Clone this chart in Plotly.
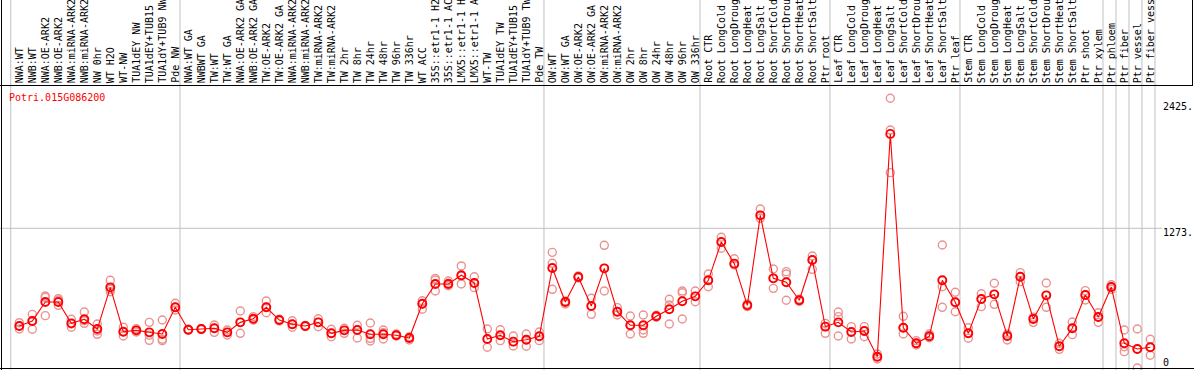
import plotly.graph_objects as go

labels = [
    "NWA:WT", "NWB:WT", "NWA:OE-ARK2", "NWB:OE-ARK2", "NWA:miRNA-ARK2", "NWB:miRNA-ARK2",
    "NW 0hr", "WT H2O", "WT-NW", "TUA1dEY NW", "TUA1dEY+TUB15", "TUA1dY+TUB9 NW", "Pde NW",
    "NWA:WT GA", "NWBWT GA", "TW:WT", "TW:WT GA", "NWA:OE-ARK2 GA", "NWB:OE-ARK2 GA",
    "TW:OE-ARK2", "TW:OE-ARK2 GA", "NWA:miRNA-ARK2", "NWB:miRNA-ARK2", "TW:miRNA-ARK2",
    "TW:miRNA-ARK2", "TW 2hr", "TW 8hr", "TW 24hr", "TW 48hr", "TW 96hr", "TW 336hr", "WT ACC",
    "35S::etr1-1 H2", "35S::etr1-1 AC", "LMX5::etr1-1 H", "LMX5::etr1-1 A", "WT-TW",
    "TUA1dEY TW", "TUA1dEY+TUB15", "TUA1dY+TUB9 TW", "Pde TW",
    "OW:WT", "OW:WT GA", "OW:OE-ARK2", "OW:OE-ARK2 GA", "OW:miRNA-ARK2", "OW:miRNA-ARK2",
    "OW 2hr", "OW 8hr", "OW 24hr", "OW 48hr", "OW 96hr", "OW 336hr",
    "Root CTR", "Root LongCold", "Root LongDroug", "Root LongHeat", "Root LongSalt",
    "Root ShortCold", "Root ShortDrou", "Root ShortHeat", "Root ShortSalt", "Ptr root",
    "Leaf CTR", "Leaf LongCold", "Leaf LongDroug", "Leaf LongHeat", "Leaf LongSalt",
    "Leaf ShortCold", "Leaf ShortDrou", "Leaf ShortHeat", "Leaf ShortSalt", "Ptr leaf",
    "Stem CTR", "Stem LongCold", "Stem LongDroug", "Stem LongHeat", "Stem LongSalt",
    "Stem ShortCold", "Stem ShortDrou", "Stem ShortHeat", "Stem ShortSalt", "Ptr shoot",
    "Ptr xylem", "Ptr phloem", "Ptr fiber", "Ptr vessel", "Ptr fiber vess",
]

means = [
    383, 428, 601, 601, 407, 444, 355, 735, 331, 343, 325, 310, 553,
    349, 355, 362, 325, 416, 449, 553, 437, 398, 383, 416, 316, 343, 346, 307, 307,
    298, 273, 586, 766, 766, 845, 775, 264, 298, 240, 258, 289,
    911, 601, 829, 565, 908, 513, 389, 389, 471, 535, 608, 653,
    799, 1148, 951, 571, 1391, 817, 781, 617, 984, 377,
    416, 328, 337, 103, 2133, 367, 225, 289, 799, 599,
    316, 629, 671, 292, 832, 447, 662, 198, 362, 665, 465,
    738, 225, 173, 189,
]

rep1 = [
    413, 489, 656, 632, 444, 510, 401, 799, 371, 358, 416, 437, 590,
    353, 360, 392, 346, 519, 468, 611, 444, 431, 388, 449, 353, 362, 389, 410, 346,
    310, 285, 613, 817, 793, 930, 832, 355, 349, 292, 310, 328,
    1054, 611, 838, 635, 1118, 550, 474, 483, 480, 626, 702, 702,
    857, 1191, 996, 583, 1449, 902, 878, 628, 1021, 407,
    510, 377, 377, 128, 2458, 471, 249, 310, 1121, 690,
    367, 677, 772, 310, 869, 462, 775, 225, 419, 705, 504,
    759, 346, 355, 262,
]
rep2 = [
    383, 428, 644, 620, 401, 431, 337, 717, 331, 343, 298, 262, 553,
    349, 355, 362, 325, 416, 449, 553, 437, 398, 383, 416, 316, 343, 346, 270, 322,
    298, 273, 583, 802, 772, 838, 775, 264, 298, 240, 258, 289,
    954, 601, 829, 565, 908, 513, 389, 346, 471, 574, 686, 653,
    799, 1148, 951, 571, 1391, 817, 857, 617, 984, 377,
    468, 328, 337, 103, 2169, 367, 225, 289, 741, 599,
    316, 629, 671, 292, 832, 447, 662, 198, 362, 665, 465,
    738, 194, 173, 189,
]
rep3 = [
    355, 353, 477, 571, 371, 407, 307, 695, 292, 328, 252, 249, 529,
    345, 350, 325, 301, 316, 437, 504, 430, 371, 378, 376, 285, 316, 273, 246, 264,
    292, 255, 535, 702, 750, 766, 732, 189, 249, 200, 198, 249,
    717, 583, 820, 489, 702, 483, 310, 316, 462, 401, 447, 604,
    741, 1091, 939, 559, 1364, 726, 617, 607, 899, 316,
    292, 264, 285, 82, 1780, 310, 210, 276, 553, 513,
    271, 559, 580, 255, 787, 416, 553, 170, 304, 620, 416,
    717, 149, 0, 116,
]

gene_id = "Potri.015G086200"
ytick_vals = [0, 1273, 2425]
ytick_text = ["0", "1273.", "2425."]
separators_after = [12, 40, 52, 62, 72, 83, 84, 85, 86, 87]

W, H = 1194, 370
PX = 13.0
x0 = -19.3 / PX
x1 = x0 + W / PX
k = 139.7 / 1273.0
y0 = -2.0 / k
y1 = y0 + H / k

xs = list(range(len(means)))

fig = go.Figure()
rep_color = "rgb(234,146,146)"
for rep in (rep1, rep2, rep3):
    fig.add_trace(go.Scatter(
        x=xs, y=rep, mode="markers",
        marker=dict(symbol="circle-open", size=8, color=rep_color, line=dict(width=1.4, color=rep_color)),
        showlegend=False, hoverinfo="skip"))
fig.add_trace(go.Scatter(
    x=xs, y=means, mode="lines+markers",
    line=dict(color="#ff0000", width=1.1),
    marker=dict(symbol="circle-open", size=8, color="#ff0000", line=dict(width=1.9, color="#ee0000")),
    showlegend=False))

shapes = []
grey = "#c0c0c0"
seps = [-0.66] + [s + 0.36 for s in separators_after]
for s in seps:
    shapes.append(dict(type="line", xref="x", yref="paper", x0=s, x1=s, y0=0, y1=1,
                       line=dict(color=grey, width=1), layer="below"))
shapes.append(dict(type="line", xref="paper", yref="y", x0=0, x1=1162 / W, y0=1273, y1=1273,
                   line=dict(color=grey, width=1), layer="below"))
ytop = 1 - 85.5 / H
shapes.append(dict(type="line", xref="paper", yref="paper", x0=0, x1=1193 / W, y0=ytop, y1=ytop,
                   line=dict(color="black", width=1)))
shapes.append(dict(type="line", xref="paper", yref="paper", x0=1192.5 / W, x1=1192.5 / W, y0=ytop, y1=1,
                   line=dict(color="black", width=1)))
shapes.append(dict(type="line", xref="paper", yref="paper", x0=1.5 / W, x1=1.5 / W, y0=0, y1=1,
                   line=dict(color="black", width=1)))
ybot = 1 - 368.5 / H
shapes.append(dict(type="line", xref="paper", yref="paper", x0=0, x1=1, y0=ybot, y1=ybot,
                   line=dict(color="black", width=1)))

mono = "DejaVu Sans Mono"
annotations = []
for i, lab in enumerate(labels):
    annotations.append(dict(x=i, xref="x", y=1 - 84 / H, yref="paper", text=lab, textangle=-90,
                            xanchor="center", yanchor="bottom", showarrow=False, borderpad=0,
                            font=dict(family=mono, size=10, color="black")))
annotations.append(dict(x=7 / W, xref="paper", y=1 - 97 / H, yref="paper", text=gene_id,
                        xanchor="left", yanchor="middle", showarrow=False,
                        font=dict(family=mono, size=10, color="#ff0000")))
for v, t in zip(ytick_vals, ytick_text):
    annotations.append(dict(x=1161 / W, xref="paper", y=v, yref="y", text=t,
                            xanchor="left", yanchor="middle", showarrow=False,
                            yshift=(6 if v == 0 else -4.5),
                            font=dict(family=mono, size=10, color="black")))

fig.update_layout(
    width=W, height=H,
    margin=dict(l=0, r=0, t=0, b=0),
    paper_bgcolor="white", plot_bgcolor="white",
    xaxis=dict(range=[x0, x1], visible=False, fixedrange=True),
    yaxis=dict(range=[y0, y1], visible=False, fixedrange=True),
    shapes=shapes, annotations=annotations,
)
fig.write_html(
    "out.html",
    config={"displayModeBar": False},
    post_script="document.body.style.margin='0px';document.body.style.overflow='hidden';",
)
